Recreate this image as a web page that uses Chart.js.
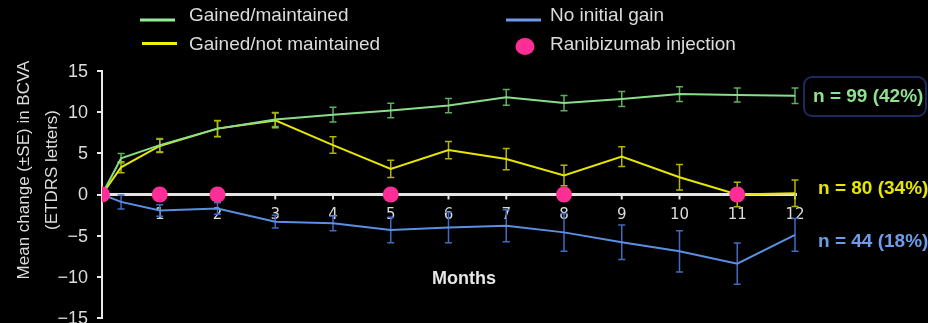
<!DOCTYPE html>
<html>
<head>
<meta charset="utf-8">
<title>BCVA change by response group</title>
<script src="https://cdn.jsdelivr.net/npm/chart.js@4/dist/chart.umd.min.js"></script>
<style>
  html, body { margin: 0; padding: 0; background: #000; }
  #wrap { width: 928px; height: 323px; }
</style>
</head>
<body>
<div id="wrap"><canvas id="c" width="928" height="323"></canvas></div>
<script>
// Visit times in months (first post-baseline visit is at ~1/3 month)
const months = [0, 0.33, 1, 2, 3, 4, 5, 6, 7, 8, 9, 10, 11, 12];

// Mean change in BCVA (ETDRS letters) and standard errors per group
const gainedMaintained     = [0, 4.4, 6.0, 8.0, 9.1, 9.7, 10.2, 10.8, 11.8, 11.1, 11.6, 12.2, 12.1, 12.0];
const gainedMaintainedSE   = [0, 0.57, 0.8, 1.0, 0.85, 0.9, 0.87, 0.87, 0.95, 0.93, 0.9, 0.9, 0.85, 0.95];
const gainedNotMaintained   = [0, 3.3, 5.9, 8.0, 9.0, 6.0, 3.1, 5.4, 4.3, 2.3, 4.6, 2.1, 0.0, 0.15];
const gainedNotMaintainedSE = [0, 0.67, 0.8, 0.95, 0.9, 1.0, 1.05, 1.05, 1.3, 1.25, 1.2, 1.55, 1.5, 1.6];
const noInitialGain   = [0, -0.9, -1.95, -1.7, -3.3, -3.5, -4.3, -4.0, -3.8, -4.6, -5.8, -6.9, -8.4, -4.9];
const noInitialGainSE = [0, 0.85, 0.7, 0.7, 0.77, 0.9, 1.55, 1.85, 1.95, 2.3, 2.1, 2.5, 2.5, 2.0];

// Months at which a ranibizumab injection was given
const injectionMonths = [0, 1, 2, 5, 8, 11];

// Axis ticks
const monthTicks = [1, 2, 3, 4, 5, 6, 7, 8, 9, 10, 11, 12];
const yTicks = [-15, -10, -5, 0, 5, 10, 15];

// Group sizes shown at the right
const groupLabels = ['n = 99 (42%)', 'n = 80 (34%)', 'n = 44 (18%)'];

const GREEN = '#88dd88', YELLOW = '#e6e600', BLUE = '#5b8fe3', PINK = '#ff2e96';
const TEXT = '#dcdcdc';

const toXY = (vals) => vals.map((v, i) => ({ x: months[i], y: v }));

// Baseline axis at y = 0 with month ticks and labels, plus value labels on the y axis
const axisLabels = {
  id: 'axisLabels',
  beforeDatasetsDraw(chart) {
    const { ctx, scales: { x, y } } = chart;
    const y0 = y.getPixelForValue(0);
    ctx.save();
    ctx.strokeStyle = '#e4e4e4';
    ctx.lineWidth = 3;
    ctx.beginPath();
    ctx.moveTo(chart.chartArea.left, y0);
    ctx.lineTo(x.getPixelForValue(12) + 2, y0);
    ctx.stroke();
    ctx.lineWidth = 2;
    ctx.fillStyle = TEXT;
    ctx.font = '15px "DejaVu Sans"';
    ctx.textAlign = 'center';
    ctx.textBaseline = 'middle';
    monthTicks.forEach(m => {
      const px = x.getPixelForValue(m);
      ctx.beginPath();
      ctx.moveTo(px, y0);
      ctx.lineTo(px, y0 + 5);
      ctx.stroke();
      ctx.fillText(String(m), px, y0 + 21);
    });

    ctx.textAlign = 'right';
    ctx.font = '18px "Liberation Sans", Arial, sans-serif';
    yTicks.forEach(v => {
      ctx.fillText(String(v).replace('-', '\u2212'), chart.chartArea.left - 14, y.getPixelForValue(v) + 1);
    });
    ctx.restore();
  }
};

// Standard-error bars for each line series
const errorBars = {
  id: 'errorBars',
  beforeDatasetsDraw(chart) {
    const { ctx, scales: { x, y } } = chart;
    ctx.save();
    chart.data.datasets.forEach(ds => {
      if (!ds.se) return;
      ctx.strokeStyle = ds.barColor;
      ctx.lineWidth = 1.5;
      ds.data.forEach((p, i) => {
        const se = ds.se[i];
        if (!se) return;
        const px = x.getPixelForValue(p.x);
        const top = y.getPixelForValue(p.y + se);
        const bot = y.getPixelForValue(p.y - se);
        ctx.beginPath();
        ctx.moveTo(px, top); ctx.lineTo(px, bot);
        ctx.moveTo(px - 3.5, top); ctx.lineTo(px + 3.5, top);
        ctx.moveTo(px - 3.5, bot); ctx.lineTo(px + 3.5, bot);
        ctx.stroke();
      });
    });
    ctx.restore();
  }
};

// Legend, axis titles and group-size labels
const annotations = {
  id: 'annotations',
  afterDraw(chart) {
    const { ctx } = chart;
    const ds = chart.data.datasets;
    ctx.save();
    ctx.textBaseline = 'middle';
    ctx.textAlign = 'left';

    // legend
    const legendItems = [
      { d: ds[1], lx: 140, ly: 20, tx: 189, ty: 16 },
      { d: ds[2], lx: 142, ly: 43.5, tx: 189, ty: 45 },
      { d: ds[3], lx: 506, ly: 20, tx: 550, ty: 16 }
    ];
    ctx.font = '19px "Liberation Sans", Arial, sans-serif';
    legendItems.forEach(it => {
      ctx.strokeStyle = it.d.legendColor;
      ctx.lineWidth = 3;
      ctx.beginPath();
      ctx.moveTo(it.lx, it.ly);
      ctx.lineTo(it.lx + 35, it.ly);
      ctx.stroke();
      ctx.fillStyle = TEXT;
      ctx.fillText(it.d.label, it.tx, it.ty);
    });
    ctx.fillStyle = PINK;
    ctx.beginPath();
    ctx.ellipse(525, 46.5, 9.5, 8.5, 0, 0, Math.PI * 2);
    ctx.fill();
    ctx.fillStyle = TEXT;
    ctx.fillText(ds[0].label, 550, 45);

    // y axis title
    ctx.save();
    ctx.translate(0, 170);
    ctx.rotate(-Math.PI / 2);
    ctx.textAlign = 'center';
    ctx.font = '17px "Liberation Sans", Arial, sans-serif';
    ctx.fillStyle = TEXT;
    ctx.fillText('Mean change (\u00b1SE) in BCVA', 0, 24);
    ctx.fillText('(ETDRS letters)', 0, 52);
    ctx.restore();

    // x axis title
    ctx.textAlign = 'center';
    ctx.font = 'bold 18px "Liberation Sans", Arial, sans-serif';
    ctx.fillStyle = '#e6e6e6';
    ctx.fillText('Months', 464, 279);

    // group sizes
    ctx.strokeStyle = '#1b2a5a';
    ctx.lineWidth = 2;
    ctx.beginPath();
    ctx.roundRect(804, 77, 122, 39, 8);
    ctx.stroke();
    ctx.textAlign = 'left';
    ctx.font = 'bold 19px "Liberation Sans", Arial, sans-serif';
    ctx.fillStyle = '#8fe08f';
    ctx.fillText(groupLabels[0], 813, 97);
    ctx.fillStyle = YELLOW;
    ctx.fillText(groupLabels[1], 818, 189);
    ctx.fillStyle = '#6f9ce8';
    ctx.fillText(groupLabels[2], 818, 242);
    ctx.restore();
  }
};

new Chart(document.getElementById('c'), {
  type: 'line',
  data: {
    datasets: [
      {
        label: 'Ranibizumab injection',
        type: 'scatter',
        data: injectionMonths.map(m => ({ x: m, y: 0 })),
        pointRadius: 8,
        pointBackgroundColor: PINK,
        pointBorderWidth: 0,
        showLine: false,
        order: 0
      },
      {
        label: 'Gained/maintained',
        data: toXY(gainedMaintained),
        se: gainedMaintainedSE,
        borderColor: GREEN,
        legendColor: '#94ee94',
        barColor: '#5fae5f',
        borderWidth: 2,
        pointRadius: 0,
        tension: 0,
        order: 1
      },
      {
        label: 'Gained/not maintained',
        data: toXY(gainedNotMaintained),
        se: gainedNotMaintainedSE,
        borderColor: YELLOW,
        legendColor: '#f0f000',
        barColor: '#b5b500',
        borderWidth: 2,
        pointRadius: 0,
        tension: 0,
        order: 2
      },
      {
        label: 'No initial gain',
        data: toXY(noInitialGain),
        se: noInitialGainSE,
        borderColor: BLUE,
        legendColor: '#6a9ae8',
        barColor: '#3f6cc0',
        borderWidth: 2,
        pointRadius: 0,
        tension: 0,
        order: 3
      }
    ]
  },
  options: {
    responsive: false,
    animation: false,
    devicePixelRatio: 1,
    layout: { autoPadding: false, padding: { left: 0, right: 133, top: 71, bottom: 5 } },
    plugins: { legend: { display: false }, tooltip: { enabled: false } },
    scales: {
      x: { type: 'linear', min: 0, max: 12, display: false },
      y: {
        type: 'linear',
        min: -15,
        max: 15,
        afterFit(scale) {
          scale.width = 102;
        },
        afterBuildTicks(scale) {
          scale.ticks = yTicks.map(v => ({ value: v }));
        },
        ticks: { display: false },
        grid: {
          display: true,
          drawOnChartArea: false,
          drawTicks: true,
          tickLength: 5,
          color: '#e8e8e8',
          lineWidth: 2
        },
        border: { display: true, color: '#e8e8e8', width: 2 }
      }
    }
  },
  plugins: [axisLabels, errorBars, annotations]
});
</script>
</body>
</html>
